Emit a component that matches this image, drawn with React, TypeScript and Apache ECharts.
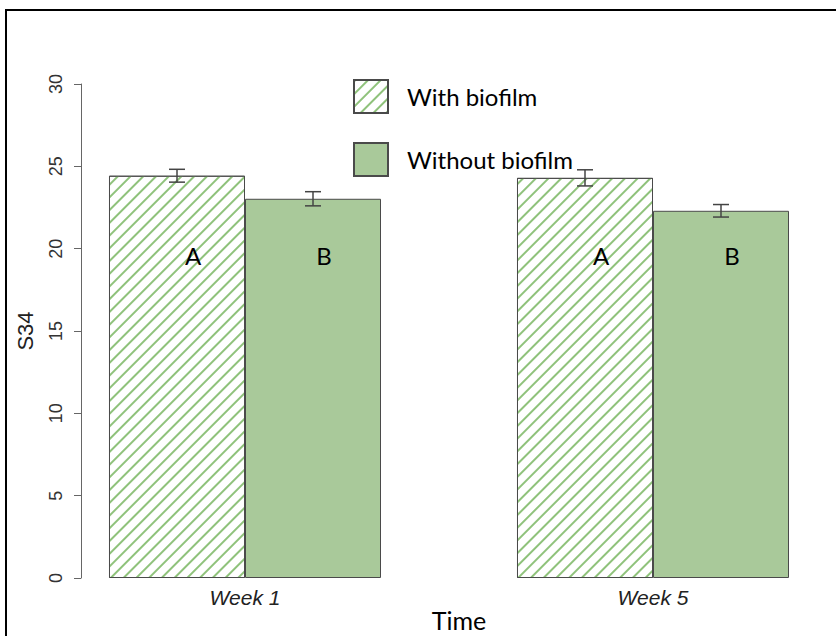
import React, { useEffect, useRef } from "react";
import * as echarts from "echarts";

const categories = ["Week 1", "Week 5"];
const withBiofilm = [24.43, 24.3];
const withoutBiofilm = [23.03, 22.3];
const withBiofilmErr = [0.39, 0.49];
const withoutBiofilmErr = [0.43, 0.38];
const withLetters = ["A", "A"];
const withoutLetters = ["B", "B"];
const letterLevel = 19.6;
const yMin = 0;
const yMax = 30;
const yInterval = 5;
const xTitle = "Time";
const yTitle = "S34";

const GREEN = "#a9c99a";
const HATCH = "#8fc27b";
const BORDER = "#4a4a4a";

function errorBars(name: string, means: number[], errs: number[], side: number) {
  return {
    type: "custom",
    name,
    silent: true,
    z: 10,
    data: means.map((m, i) => [i, m, errs[i]]),
    encode: { x: 0, y: 1 },
    renderItem: (_p: any, api: any) => {
      const i = api.value(0);
      const m = api.value(1);
      const e = api.value(2);
      const band = api.size([1, 0])[0];
      const cx = api.coord([i, m])[0] + (side * band) / 6;
      const yTop = api.coord([i, m + e])[1];
      const yBot = api.coord([i, m - e])[1];
      const hw = 8;
      const style = { stroke: "#444", lineWidth: 1.5 };
      return {
        type: "group",
        children: [
          { type: "line", shape: { x1: cx, y1: yTop, x2: cx, y2: yBot }, style },
          { type: "line", shape: { x1: cx - hw, y1: yTop, x2: cx + hw, y2: yTop }, style },
          { type: "line", shape: { x1: cx - hw, y1: yBot, x2: cx + hw, y2: yBot }, style },
        ],
      };
    },
  };
}

function letterSeries(name: string, letters: string[], side: number, dx: number) {
  return {
    type: "custom",
    name,
    silent: true,
    z: 11,
    data: letters.map((_l, i) => [i, letterLevel]),
    encode: { x: 0, y: 1 },
    renderItem: (p: any, api: any) => {
      const i = api.value(0);
      const band = api.size([1, 0])[0];
      const pt = api.coord([i, api.value(1)]);
      return {
        type: "text",
        x: pt[0] + (side * band) / 6 + dx,
        y: pt[1],
        style: {
          text: letters[p.dataIndex],
          fontSize: 24,
          fontFamily: "Lato",
          fill: "#000",
          align: "center",
          verticalAlign: "middle",
        },
      };
    },
  };
}

export default function App() {
  const ref = useRef<HTMLDivElement>(null);
  useEffect(() => {
    if (!ref.current) return;
    const chart = echarts.init(ref.current, null, { renderer: "svg" });
    chart.setOption({
      animation: false,
      backgroundColor: "#fff",
      graphic: [
        {
          type: "rect",
          shape: { x: 6, y: 10, width: 900, height: 700 },
          style: { fill: "none", stroke: "#000", lineWidth: 2 },
          silent: true,
        },
        {
          type: "text",
          x: 459,
          y: 620,
          style: {
            text: xTitle,
            fontSize: 25,
            fontFamily: "Lato",
            fill: "#000",
            align: "center",
            verticalAlign: "middle",
          },
          silent: true,
        },
      ],
      legend: {
        data: ["With biofilm", "Without biofilm"],
        orient: "vertical",
        left: 353,
        top: 79,
        padding: 0,
        itemWidth: 34,
        itemHeight: 33,
        itemGap: 28,
        icon: "rect",
        textStyle: { fontSize: 24, fontFamily: "Lato", color: "#000", padding: [0, 0, 0, 14] },
      },
      grid: { left: 41, top: 84, width: 816, height: 494, outerBoundsMode: "none" },
      xAxis: {
        type: "category",
        data: categories,
        axisLine: { show: false },
        axisTick: { show: false },
        axisLabel: {
          fontSize: 21,
          fontStyle: "italic",
          fontFamily: "Liberation Sans",
          color: "#222",
          margin: 9,
        },
      },
      yAxis: {
        type: "value",
        min: yMin,
        max: yMax,
        interval: yInterval,
        offset: -40,
        splitLine: { show: false },
        axisLine: { show: true, lineStyle: { color: "#666", width: 1 } },
        axisTick: { show: true, length: 7, lineStyle: { color: "#666", width: 1 } },
        axisLabel: {
          rotate: 90,
          fontSize: 18,
          fontFamily: "Liberation Sans",
          color: "#333",
          margin: 16,
        },
        name: yTitle,
        nameLocation: "middle",
        nameRotate: 90,
        nameGap: 45,
        nameTextStyle: { fontSize: 22, fontFamily: "Liberation Sans", color: "#222" },
      },
      series: [
        {
          type: "bar",
          name: "With biofilm",
          data: withBiofilm,
          barGap: "0%",
          barCategoryGap: "33.333%",
          itemStyle: {
            color: "#fff",
            borderColor: BORDER,
            borderWidth: 1,
            decal: {
              symbol: "rect",
              symbolSize: 1,
              dashArrayX: [1, 0],
              dashArrayY: [1.6, 6.2],
              rotation: -Math.PI / 4,
              color: HATCH,
            },
          },
        },
        {
          type: "bar",
          name: "Without biofilm",
          data: withoutBiofilm,
          barGap: "0%",
          barCategoryGap: "33.333%",
          itemStyle: { color: GREEN, borderColor: BORDER, borderWidth: 1 },
        },
        errorBars("err-with", withBiofilm, withBiofilmErr, -1),
        errorBars("err-without", withoutBiofilm, withoutBiofilmErr, 1),
        letterSeries("letters-with", withLetters, -1, 16),
        letterSeries("letters-without", withoutLetters, 1, 11),
      ],
    });
    return () => chart.dispose();
  }, []);
  return (
    <div
      ref={ref}
      style={{ position: "absolute", left: 0, top: 0, width: 836, height: 636, background: "#fff" }}
    />
  );
}
